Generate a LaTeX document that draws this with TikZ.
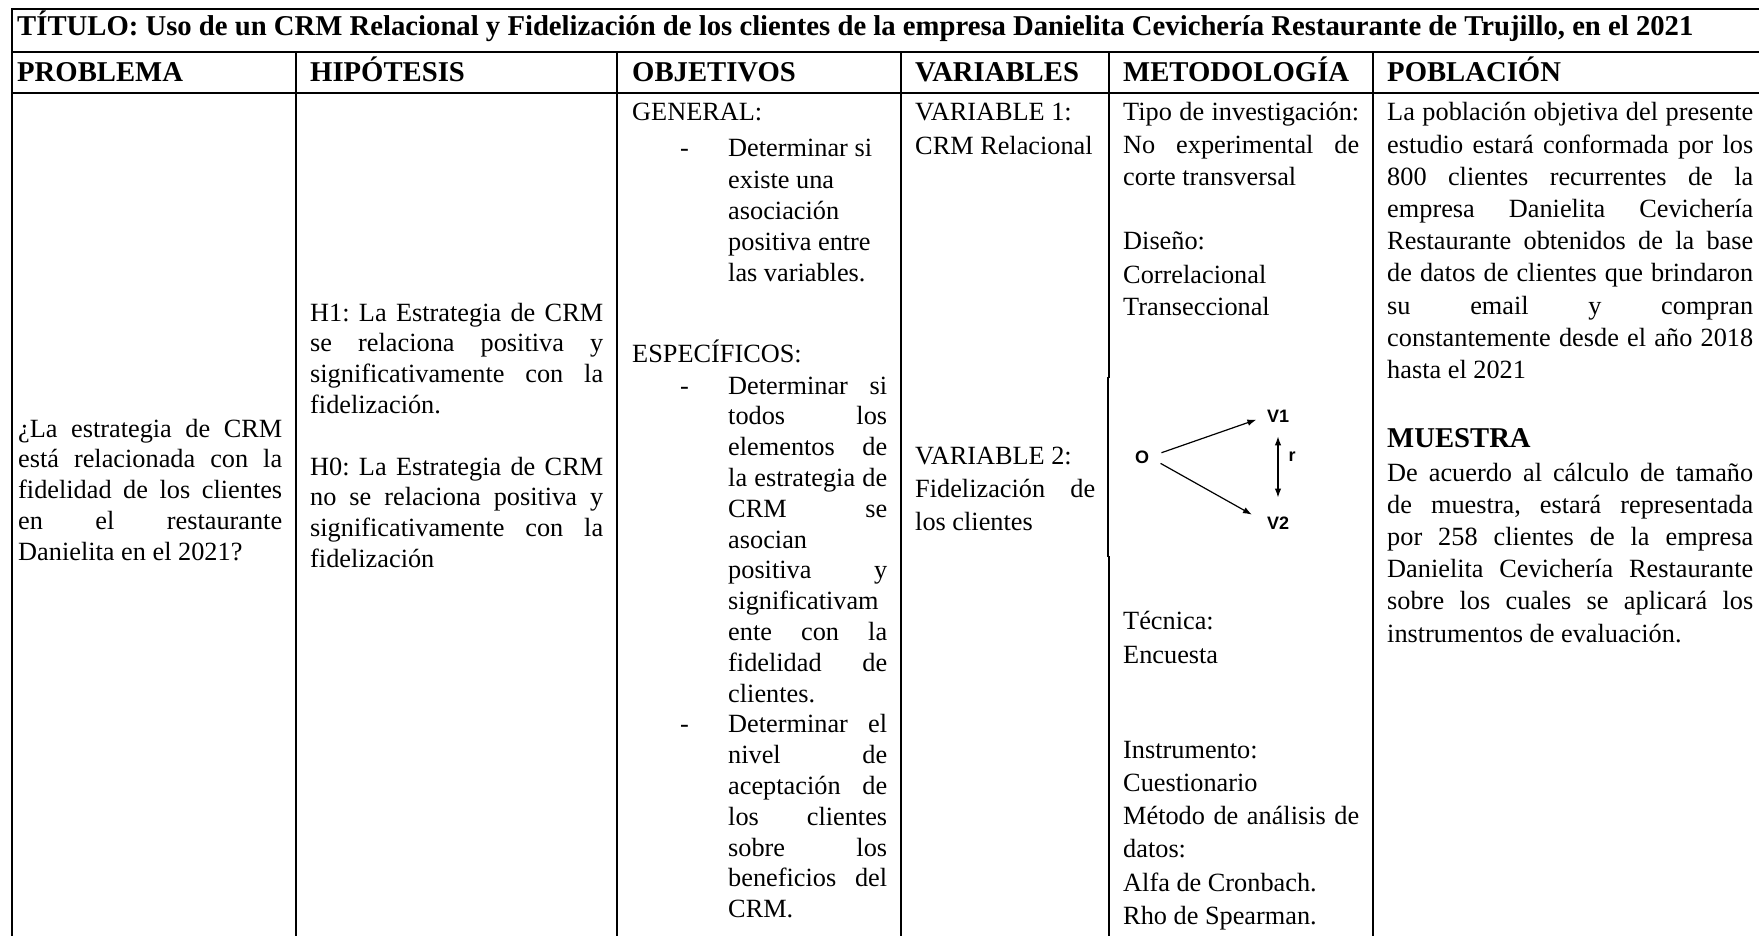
\documentclass[tikz,border=0pt]{standalone}
\usepackage{fontspec}
\setmainfont{Liberation Serif}
\setsansfont{Liberation Sans}
\usetikzlibrary{arrows.meta}
\newcommand\J[1]{\makebox[\linewidth][s]{#1}}
\newcommand\itemdash{\leavevmode\llap{\makebox[48pt][l]{-}}}
\begin{document}
\frenchspacing
\begin{tikzpicture}[x=1pt,y=-1pt,
  tline/.style={line width=2.2pt, line cap=rect},
  tlinethin/.style={line width=1.1pt},
  hdr/.style={anchor=base west, inner sep=0pt, font=\bfseries\fontsize{28.7}{33}\selectfont},
  txt/.style={anchor=base west, inner sep=0pt, font=\fontsize{26.3}{30.8}\selectfont},
  txtw/.style={anchor=base west, inner sep=0pt, font=\fontsize{26.3}{32.2}\selectfont},
  txtb/.style={anchor=base west, inner sep=0pt, font=\fontsize{26.3}{33.3}\selectfont},
  lbl/.style={inner sep=0pt, font=\sffamily\bfseries\fontsize{18}{18}\selectfont},
  arr/.style={line width=1.2pt, -{Latex[length=9pt,width=6.5pt]}},
  darr/.style={line width=1.2pt, {Latex[length=9pt,width=6.5pt]}-{Latex[length=9pt,width=6.5pt]}}
]
\fill[white] (0,0) rectangle (1759,936);
\useasboundingbox (0,0) rectangle (1759,936);

% table rules
\draw[tline] (12,936) -- (12,9) -- (1759,9);
\draw[tline] (12,52) -- (1759,52);
\draw[tline] (12,93) -- (1759,93);
\draw[tline] (296,52) -- (296,936);
\draw[tline] (617,52) -- (617,936);
\draw[tline] (901,52) -- (901,936);
\draw[tline] (1109,52) -- (1109,377);
\draw[tlinethin] (1108,377) -- (1108,557);
\draw[tline] (1109,557) -- (1109,936);
\draw[tline] (1373,52) -- (1373,936);

% title and headers
\node[hdr] (title) at (17,36) {TÍTULO: Uso de un CRM Relacional y Fidelización de los clientes de la empresa Danielita Cevichería Restaurante de Trujillo, en el 2021};
\node[hdr] (hprob) at (17,82) {PROBLEMA};
\node[hdr] (hhip) at (310,82) {HIPÓTESIS};
\node[hdr] (hobj) at (632,82) {OBJETIVOS};
\node[hdr] (hvar) at (915,82) {VARIABLES};
\node[hdr] (hmet) at (1123,82) {METODOLOGÍA};
\node[hdr] (hpob) at (1387,82) {POBLACIÓN};

% PROBLEMA
\node[txt] (prob) at (18,437) {\parbox[t]{264pt}{\J{¿La estrategia de CRM}\\\J{está relacionada con la}\\\J{fidelidad de los clientes}\\\J{en el restaurante}\\Danielita en el 2021?}};

% HIPOTESIS
\node[txt] (hipa) at (310,321) {\parbox[t]{293pt}{\J{H1: La Estrategia de CRM}\\\J{se relaciona positiva y}\\\J{significativamente con la}\\fidelización.}};
\node[txt] (hipb) at (310,475) {\parbox[t]{293pt}{\J{H0: La Estrategia de CRM}\\\J{no se relaciona positiva y}\\\J{significativamente con la}\\fidelización}};

% OBJETIVOS
\node[txt] (gen) at (632,121) {GENERAL:};
\node[anchor=base west, inner sep=0pt, font=\fontsize{26.3}{31.2}\selectfont] (genit) at (728,157) {\parbox[t]{159pt}{\itemdash Determinar si\\existe una\\asociación\\positiva entre\\las variables.}};
\node[txt] (esp) at (632,362) {ESPECÍFICOS:};
\node[txt] (espit) at (728,394) {\parbox[t]{159pt}{\itemdash\J{Determinar si}\\\J{todos los}\\\J{elementos de}\\\J{la estrategia de}\\\J{CRM se}\\asocian\\\J{positiva y}\\significativam\\\J{ente con la}\\\J{fidelidad de}\\clientes.\\\itemdash\J{Determinar el}\\\J{nivel de}\\\J{aceptación de}\\\J{los clientes}\\\J{sobre los}\\\J{beneficios del}\\CRM.}};

% VARIABLES
\node[anchor=base west, inner sep=0pt, font=\fontsize{26.3}{34}\selectfont] (var1) at (915,121) {\parbox[t]{180pt}{VARIABLE 1:\\CRM Relacional}};
\node[anchor=base west, inner sep=0pt, font=\fontsize{26.3}{33}\selectfont] (var2) at (915,464) {\parbox[t]{180pt}{VARIABLE 2:\\\J{Fidelización de}\\los clientes}};

% METODOLOGIA
\node[txtw] (tipo) at (1123,121) {\parbox[t]{236pt}{\J{Tipo de investigación:}\\\J{No experimental de}\\corte transversal}};
\node[txtw] (dis) at (1123,249) {Diseño:};
\node[txtw] (disv) at (1123,283) {\parbox[t]{236pt}{Correlacional\\Transeccional}};
\node[lbl] (O) at (1142,457) {O};
\node[lbl] (V1) at (1278,416) {V1};
\node[lbl] (V2) at (1278,523) {V2};
\node[lbl] (r) at (1292,457) {r};
\draw[arr, shorten <=13pt, shorten >=11pt] (O.east) -- (V1.west);
\draw[arr, shorten <=13pt, shorten >=17pt] (O.east) -- (V2.west);
\draw[darr, shorten <=14pt, shorten >=19pt] (V1.south) -- (V2.north);
\node[txtb] (tec) at (1123,629) {\parbox[t]{236pt}{Técnica:\\[0.7pt]Encuesta}};
\node[txtb] (ins) at (1123,758) {\parbox[t]{236pt}{Instrumento:\\Cuestionario\\\J{Método de análisis de}\\datos:\\Alfa de Cronbach.\\Rho de Spearman.}};

% POBLACION
\node[txtw] (pob) at (1387,121) {\parbox[t]{366pt}{\J{La población objetiva del presente}\\\J{estudio estará conformada por los}\\\J{800 clientes recurrentes de la}\\\J{empresa Danielita Cevichería}\\\J{Restaurante obtenidos de la base}\\\J{de datos de clientes que brindaron}\\\J{su email y compran}\\\J{constantemente desde el año 2018}\\hasta el 2021}};
\node[hdr] (mues) at (1387,447) {MUESTRA};
\node[txtw] (muest) at (1387,481) {\parbox[t]{366pt}{\J{De acuerdo al cálculo de tamaño}\\\J{de muestra, estará representada}\\\J{por 258 clientes de la empresa}\\\J{Danielita Cevichería Restaurante}\\\J{sobre los cuales se aplicará los}\\instrumentos de evaluación.}};
\end{tikzpicture}
\end{document}
